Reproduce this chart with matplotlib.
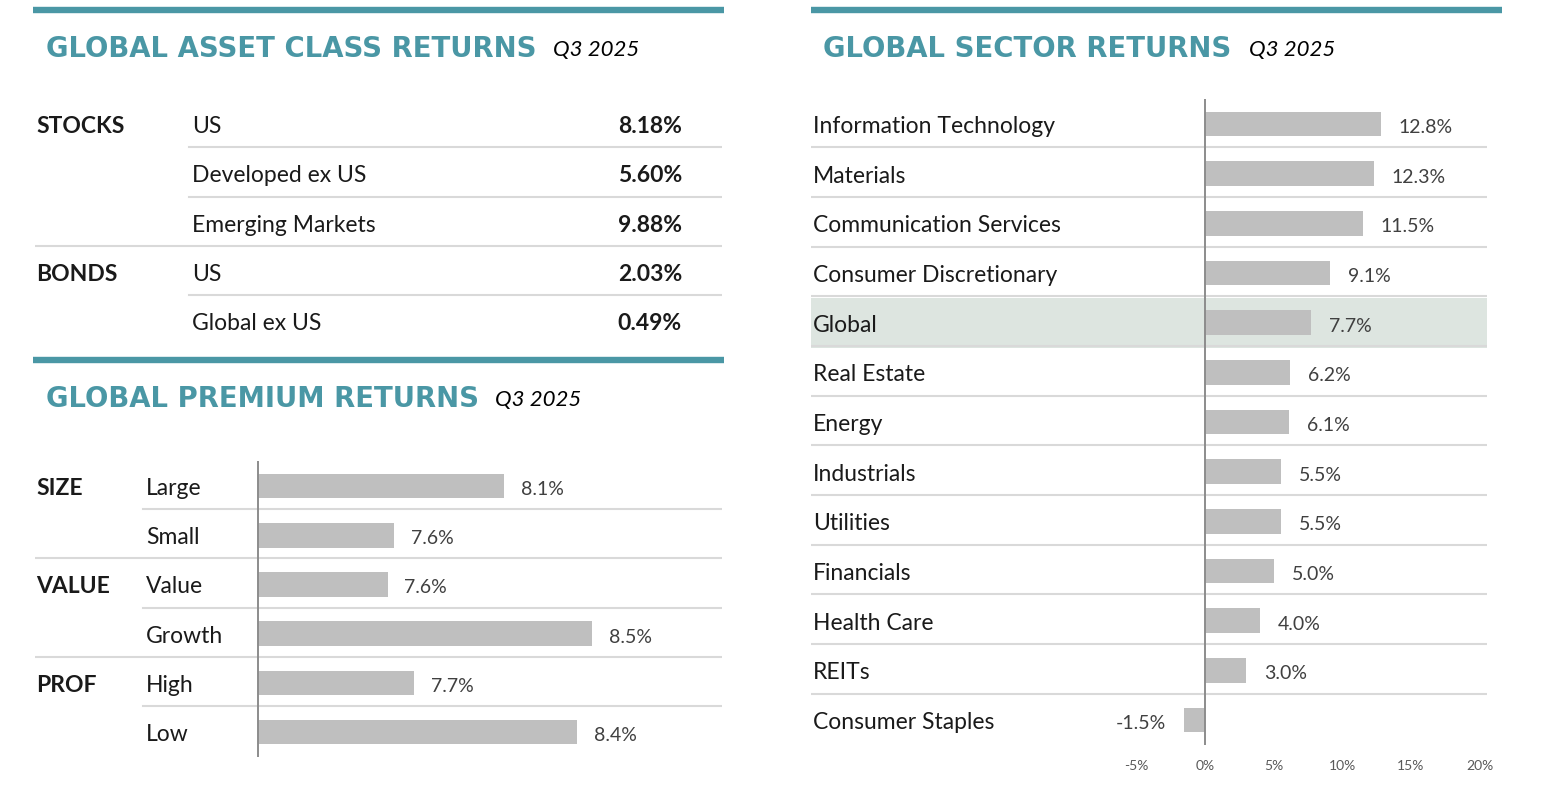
import matplotlib
matplotlib.use("Agg")
import matplotlib.pyplot as plt

# ---------------- data ----------------
asset_groups = ["STOCKS", "STOCKS", "STOCKS", "BONDS", "BONDS"]
asset_names = ["US", "Developed ex US", "Emerging Markets", "US", "Global ex US"]
asset_returns = [8.18, 5.60, 9.88, 2.03, 0.49]

premium_groups = ["SIZE", "SIZE", "VALUE", "VALUE", "PROF", "PROF"]
premium_names = ["Large", "Small", "Value", "Growth", "High", "Low"]
premium_returns = [8.12, 7.62, 7.59, 8.52, 7.71, 8.45]
premium_labels = ["8.1%", "7.6%", "7.6%", "8.5%", "7.7%", "8.4%"]
premium_base = 7.0

sector_names = ["Information Technology", "Materials", "Communication Services",
                "Consumer Discretionary", "Global", "Real Estate", "Energy",
                "Industrials", "Utilities", "Financials", "Health Care", "REITs",
                "Consumer Staples"]
sector_returns = [12.8, 12.3, 11.5, 9.1, 7.7, 6.2, 6.1, 5.5, 5.5, 5.0, 4.0, 3.0, -1.5]
sector_highlight = "Global"
sector_ticks = [-5, 0, 5, 10, 15, 20]
sector_ticklabels = ["-5%", "0%", "5%", "10%", "15%", "20%"]

# ---------------- style ----------------
TEAL = "#4A97A5"
BAR = "#BFBFBF"
SEP = "#D9D9D9"
AXIS = "#8C8C8C"
TXT = "#1A1A1A"
VAL = "#404040"
HIL = "#DDE5E0"
FONT = "Lato"
LBL = 16.5
DY = 0.03  # small downward nudge of row texts (in row units)

W, H = 1548, 812
fig = plt.figure(figsize=(W / 100, H / 100), dpi=100)
fig.patch.set_facecolor("white")


def ax_px(x0, y0, x1, y1, **kw):
    return fig.add_axes([x0 / W, 1 - y1 / H, (x1 - x0) / W, (y1 - y0) / H], **kw)


# background / decoration axes in pixel coordinates
bg = ax_px(0, 0, W, H)
bg.set_xlim(0, W)
bg.set_ylim(H, 0)
bg.axis("off")
bg.set_zorder(-5)

for (x0, x1, y) in [(33, 724, 11), (811, 1502, 11), (33, 724, 361)]:
    bg.plot([x0, x1], [y, y], color=TEAL, lw=4.6, solid_capstyle="butt")


def title(x, y, main, x2):
    bg.text(x, y, main, color=TEAL, fontsize=19.8, fontweight="bold",
            family="DejaVu Sans", va="center", ha="left")
    bg.text(x2, y + 1, "Q3 2025", color="black", fontsize=16, style="italic",
            family=FONT, va="center", ha="left")


title(46, 49, "GLOBAL ASSET CLASS RETURNS", 553)
title(823, 49, "GLOBAL SECTOR RETURNS", 1249)
title(46, 399, "GLOBAL PREMIUM RETURNS", 495)

# ---------------- asset class table ----------------
tx0, tx1 = 35, 722
tab = ax_px(tx0, 100.4, tx1, 347)
n = len(asset_names)
tab.set_xlim(tx0, tx1)
tab.set_ylim(n, 0)
tab.axis("off")
for i in range(n):
    yc = i + 0.5 + DY
    if i == 0 or asset_groups[i] != asset_groups[i - 1]:
        tab.text(36, yc, asset_groups[i], fontsize=LBL, fontweight="bold", family=FONT,
                 color=TXT, va="center", ha="left")
    tab.text(192, yc, asset_names[i], fontsize=LBL, family=FONT, color=TXT,
             va="center", ha="left")
    tab.text(682, yc, f"{asset_returns[i]:.2f}%", fontsize=16.5, fontweight="bold",
             family=FONT, color=TXT, va="center", ha="right")
    if i < n - 1:
        xs = tx0 if asset_groups[i + 1] != asset_groups[i] else 189
        tab.plot([xs, tx1], [i + 0.97, i + 0.97], color=SEP, lw=1.5)

# ---------------- premium chart ----------------
px0, px1, pzero, pscale = 35, 722, 258, 220.0
pr = ax_px(px0, 462.4, px1, 757.6)
m = len(premium_names)
pr.set_xlim(premium_base - (pzero - px0) / pscale, premium_base + (px1 - pzero) / pscale)
pr.set_ylim(m, 0)
pr.axis("off")
ys = [i + 0.5 for i in range(m)]
pr.barh(ys, [v - premium_base for v in premium_returns], left=premium_base,
        height=0.5, color=BAR, zorder=2)
pr.axvline(premium_base, color=AXIS, lw=1.4, zorder=4)
for i in range(m):
    yc = ys[i] + DY
    if i == 0 or premium_groups[i] != premium_groups[i - 1]:
        pr.text((36 - px0) / (px1 - px0), 1 - yc / m, premium_groups[i],
                transform=pr.transAxes, fontsize=LBL, fontweight="bold", family=FONT,
                color=TXT, va="center", ha="left")
    pr.text((146 - px0) / (px1 - px0), 1 - yc / m, premium_names[i],
            transform=pr.transAxes, fontsize=LBL, family=FONT, color=TXT,
            va="center", ha="left")
    pr.annotate(premium_labels[i], xy=(premium_returns[i], ys[i] + 0.05), xytext=(12, 0),
                textcoords="offset points", fontsize=14, family=FONT, color=VAL,
                va="center", ha="left")
    if i < m - 1:
        xs = 0 if premium_groups[i + 1] != premium_groups[i] else (143 - px0) / (px1 - px0)
        pr.axhline(i + 0.97, xmin=xs, xmax=1, color=SEP, lw=1.5, zorder=1)

# ---------------- sector chart ----------------
sx0, sx1, szero, sscale = 811, 1487, 1205, 13.73
sc = ax_px(sx0, 100.2, sx1, 745.8)
k = len(sector_names)
sc.set_xlim(-(szero - sx0) / sscale, (sx1 - szero) / sscale)
sc.set_ylim(k, 0)
for sp in sc.spines.values():
    sp.set_visible(False)
sc.set_yticks([])
sc.set_xticks(sector_ticks)
sc.set_xticklabels(sector_ticklabels, fontsize=10, family=FONT, color="#595959")
sc.tick_params(axis="x", length=0, pad=10.5)
sys_ = [i + 0.5 for i in range(k)]
for i, name in enumerate(sector_names):
    if name == sector_highlight:
        sc.axhspan(i, i + 1, color=HIL, zorder=0, lw=0)
sc.barh(sys_, sector_returns, height=0.5, color=BAR, zorder=2)
sc.axvline(0, color=AXIS, lw=1.4, zorder=4)
for i, name in enumerate(sector_names):
    sc.text((813 - sx0) / (sx1 - sx0), 1 - (sys_[i] + DY) / k, name,
            transform=sc.transAxes, fontsize=LBL, family=FONT, color=TXT,
            va="center", ha="left")
    v = sector_returns[i]
    sc.annotate(f"{v:.1f}%", xy=(v, sys_[i] + 0.05), xytext=(13 if v >= 0 else -13, 0),
                textcoords="offset points", fontsize=14, family=FONT, color=VAL,
                va="center", ha="left" if v >= 0 else "right")
    if i < k - 1:
        sc.axhline(i + 0.97, color=SEP, lw=1.5, zorder=1)

fig.savefig("out.png", dpi=100, facecolor="white")
